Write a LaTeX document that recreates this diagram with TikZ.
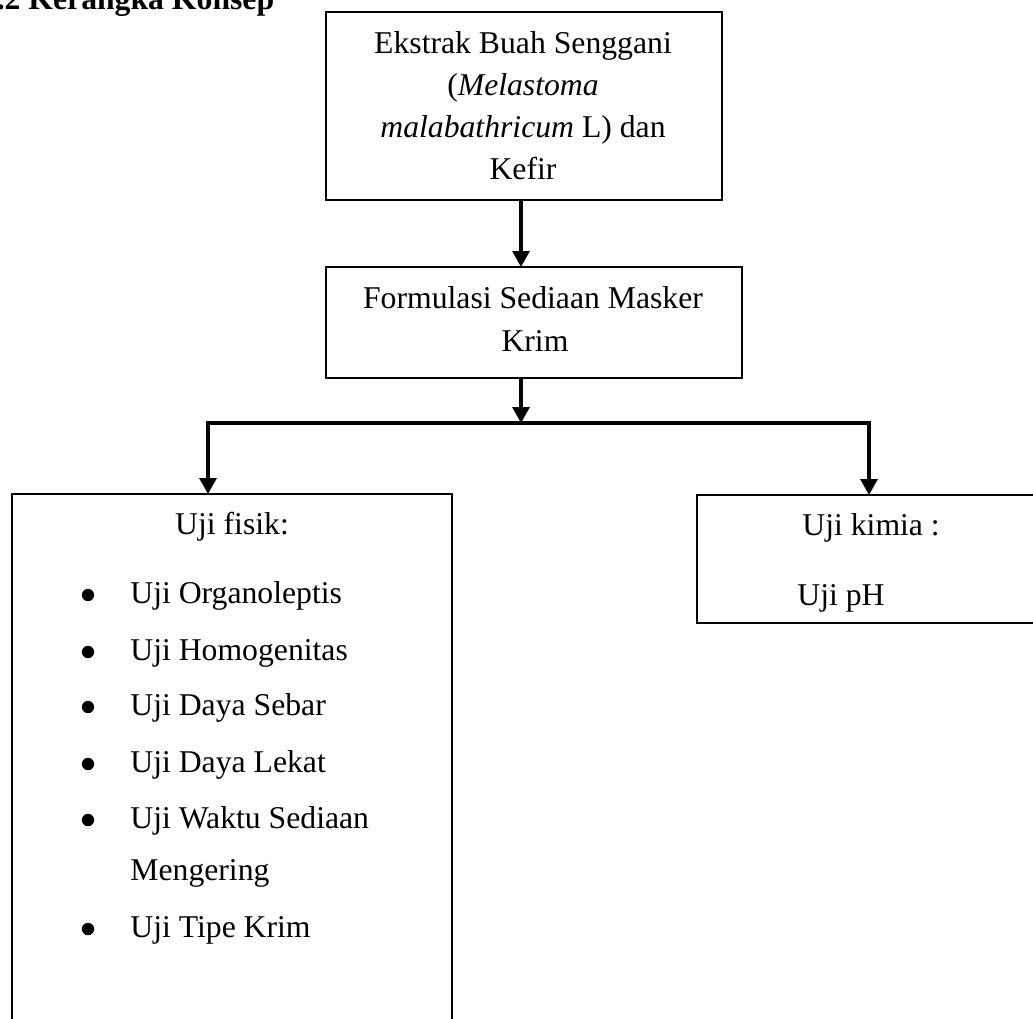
\documentclass[tikz,border=0pt]{standalone}
\usepackage{fontspec}
\setmainfont{Liberation Serif}
\usetikzlibrary{arrows.meta}
\begin{document}
\begin{tikzpicture}[x=0.5pt,y=-0.5pt,
  box/.style={draw=black,line width=1.2pt,inner sep=0pt,outer sep=0pt,anchor=north west},
  txt/.style={inner sep=0pt,anchor=base,font=\fontsize{15.85}{21}\selectfont},
  itm/.style={txt,anchor=base west},
  dot/.style={circle,fill=black,inner sep=0pt,minimum size=6.2pt},
  arr/.style={line width=1.65pt,-{Triangle[length=8pt,width=8.5pt]}}]
\useasboundingbox (0,0) rectangle (1033,1018);
\clip (0,0) rectangle (1033,1018);
% title (partly cut off at the top)
\node[itm,font=\bfseries\fontsize{15.85}{21}\selectfont] (title) at (-19.5,9) {3.2 Kerangka Konsep};
% boxes
\node[box,minimum width=198pt,minimum height=94pt] (b1) at (326,12) {};
\node[box,minimum width=208pt,minimum height=55.5pt] (b2) at (326,267) {};
\node[box,minimum width=220pt,minimum height=273pt] (b3) at (12,494) {};
\node[box,minimum width=176.5pt,minimum height=64pt] (b4) at (697,495) {};
% box 1 text
\node[txt] (t11) at (523,53) {Ekstrak Buah Senggani};
\node[txt] (t12) at (523,95) {(\textit{Melastoma}};
\node[txt] (t13) at (523,137) {\textit{malabathricum} L) dan};
\node[txt] (t14) at (523,179) {Kefir};
% box 2 text
\node[txt] (t21) at (533,308) {Formulasi Sediaan Masker};
\node[txt] (t22) at (535,351) {Krim};
% box 3 text
\node[txt] (t31) at (232,534) {Uji fisik:};
\node[dot] (p1) at (88,595) {};
\node[itm] (i1) at (130,603) {Uji Organoleptis};
\node[dot] (p2) at (88,652) {};
\node[itm] (i2) at (130,660) {Uji Homogenitas};
\node[dot] (p3) at (88,707) {};
\node[itm] (i3) at (130,715) {Uji Daya Sebar};
\node[dot] (p4) at (88,764) {};
\node[itm] (i4) at (130,772) {Uji Daya Lekat};
\node[dot] (p5) at (88,820) {};
\node[itm] (i5) at (130,828) {Uji Waktu Sediaan};
\node[itm] (i5b) at (130,880) {Mengering};
\node[dot] (p6) at (88,929) {};
\node[itm] (i6) at (130,937) {Uji Tipe Krim};
% box 4 text
\node[itm] (t41) at (802,535) {Uji kimia :};
\node[itm] (t42) at (797,605) {Uji pH};
% connectors
\coordinate (jm) at (521,423);
\coordinate (jl) at (208,423);
\coordinate (jr) at (869,423);
\draw[arr] ([xshift=-1.5pt]b1.south) -- ([xshift=-1.5pt]b1.south |- b2.north);
\draw[arr] (jm |- b2.south) -- (jm);
\draw[arr] (jm) -| (jl |- b3.north);
\draw[arr] (jm) -| (jr |- b4.north);
\end{tikzpicture}
\end{document}
